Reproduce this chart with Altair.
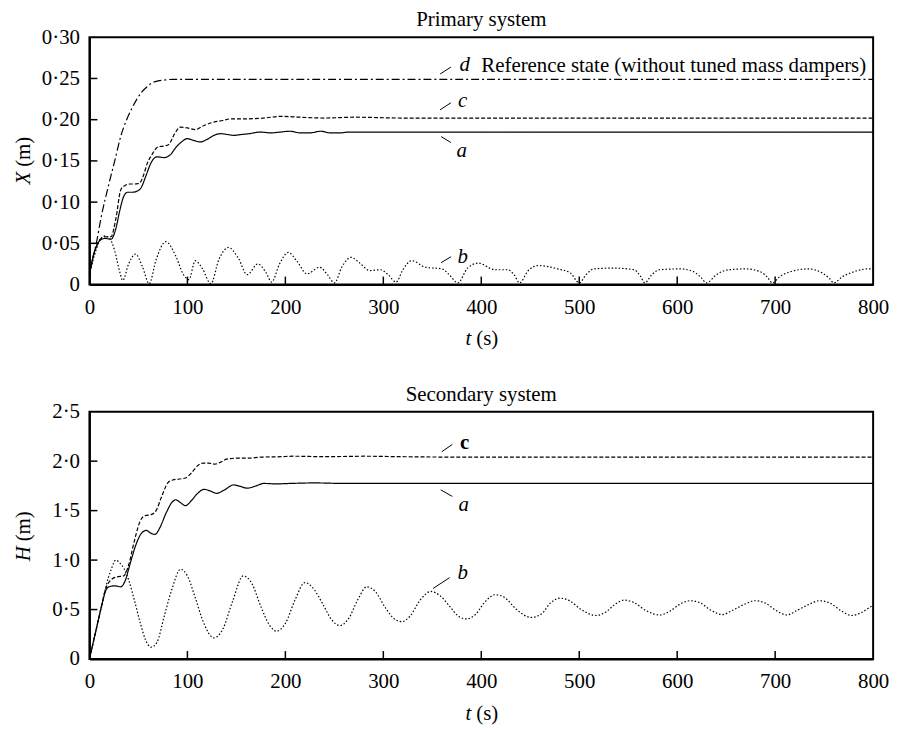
import altair as alt
import pandas as pd

FONT = "Liberation Serif"
FS = 21

# ---------------- Primary system (X, m) ----------------
top_a_t = [0, 3, 7, 11, 16, 22, 27, 31, 35, 39, 44, 48, 53, 58, 63, 69, 76, 83, 88, 93, 100, 106, 113, 120,
           127, 134, 141, 147, 155, 163, 174, 185, 195, 205, 215, 225, 236, 246, 256, 265, 280, 320, 800]
top_a_v = [0.012, 0.03, 0.046, 0.054, 0.056, 0.055, 0.068, 0.09, 0.107, 0.112, 0.112, 0.113, 0.118, 0.133, 0.148,
           0.155, 0.154, 0.158, 0.166, 0.172, 0.177, 0.175, 0.173, 0.176, 0.181, 0.183, 0.182, 0.181, 0.182, 0.183,
           0.185, 0.184, 0.185, 0.186, 0.184, 0.184, 0.186, 0.184, 0.184, 0.185, 0.185, 0.185, 0.185]

top_c_t = [0, 3, 7, 11, 16, 22, 27, 32, 36, 41, 46, 51, 55, 59, 64, 70, 76, 81, 87, 93, 100, 108, 117, 127,
           136, 144, 160, 178, 195, 215, 240, 270, 320, 800]
top_c_v = [0.012, 0.03, 0.046, 0.055, 0.058, 0.058, 0.08, 0.115, 0.12, 0.122, 0.122, 0.123, 0.132, 0.147, 0.158,
           0.167, 0.168, 0.17, 0.183, 0.191, 0.19, 0.188, 0.193, 0.197, 0.199, 0.201, 0.201, 0.202, 0.204, 0.203,
           0.202, 0.203, 0.202, 0.202]

top_d_t = [0, 3, 7, 12, 19, 26, 32, 38, 43, 48, 53, 58, 63, 70, 76, 85, 95, 130, 800]
top_d_v = [0.012, 0.03, 0.05, 0.082, 0.118, 0.151, 0.18, 0.2, 0.213, 0.224, 0.233, 0.239, 0.244, 0.247, 0.248,
           0.249, 0.249, 0.249, 0.249]

top_b_t = [0, 5, 10, 15, 20, 26, 31, 34, 40, 47, 54, 61, 68, 78, 88, 96, 101.5, 108, 115, 124, 132, 142, 152,
           161, 172, 180, 186, 194, 203, 212, 222, 235, 243, 250, 258, 267, 276, 286, 297, 305, 313, 320, 329,
           343, 360, 368, 376, 386, 397, 414, 427, 434, 439, 448, 458, 478, 491, 500, 507, 515, 535, 556, 562,
           567, 574, 582, 603, 616, 624, 630, 640, 653, 670, 686, 692, 697, 705, 714, 734, 748, 755, 760, 768,
           779, 795, 800]
top_b_v = [0.012, 0.035, 0.052, 0.059, 0.057, 0.04, 0.015, 0.005, 0.025, 0.037, 0.022, 0.001, 0.03, 0.052,
           0.035, 0.012, 0.006, 0.029, 0.02, 0.001, 0.03, 0.045, 0.032, 0.012, 0.025, 0.015, 0.003, 0.025, 0.039,
           0.028, 0.013, 0.021, 0.012, 0.002, 0.022, 0.033, 0.026, 0.017, 0.018, 0.012, 0.003, 0.018, 0.029,
           0.021, 0.019, 0.011, 0.002, 0.02, 0.026, 0.018, 0.018, 0.011, 0.002, 0.017, 0.023, 0.019, 0.014,
           0.002, 0.012, 0.019, 0.02, 0.018, 0.011, 0.002, 0.012, 0.018, 0.019, 0.016, 0.009, 0.002, 0.012,
           0.018, 0.019, 0.015, 0.009, 0.002, 0.01, 0.015, 0.019, 0.014, 0.008, 0.002, 0.009, 0.015, 0.019,
           0.019]

# ---------------- Secondary system (H, m) ----------------
bot_a_t = [0, 6, 12, 17, 20, 26, 32, 36, 42, 48, 53, 58, 63, 67, 72, 78, 84, 88, 93, 98, 104, 110, 117, 123,
           130, 138, 147, 154, 161, 170, 178, 190, 205, 230, 260, 800]
bot_a_v = [0, 0.26, 0.52, 0.70, 0.73, 0.74, 0.73, 0.78, 0.98, 1.17, 1.27, 1.30, 1.27, 1.26, 1.33, 1.47, 1.58,
           1.61, 1.58, 1.55, 1.60, 1.67, 1.715, 1.70, 1.675, 1.71, 1.76, 1.745, 1.727, 1.75, 1.775, 1.77,
           1.775, 1.78, 1.775, 1.775]

bot_c_t = [0, 6, 12, 17, 22, 28, 35, 40, 46, 52, 57, 63, 68, 74, 80, 85, 92, 98, 104, 110, 116, 122, 128, 134,
           140, 150, 161, 175, 195, 208, 240, 280, 320, 400, 800]
bot_c_v = [0, 0.26, 0.52, 0.72, 0.80, 0.83, 0.84, 0.95, 1.2, 1.40, 1.45, 1.46, 1.5, 1.65, 1.78, 1.81, 1.82,
           1.83, 1.88, 1.95, 1.98, 1.98, 1.97, 1.99, 2.02, 2.03, 2.03, 2.04, 2.045, 2.05, 2.045, 2.05, 2.045,
           2.04, 2.04]

bot_b_t = [0, 6, 12, 17, 22, 27, 31, 35, 40, 46, 52, 57, 63, 69, 76, 84, 93, 100, 108, 116, 127, 136, 146, 157,
           166, 175, 184, 191, 200, 210, 220, 228, 238, 247, 255.5, 264, 274, 283, 292, 302, 312, 319, 327, 338,
           348.5, 358, 368, 377, 385, 394, 404, 414, 424, 436, 451, 462, 470, 480, 490, 502, 517, 528, 536, 546,
           556, 568, 582, 592, 602, 613, 623, 635, 646, 656, 668, 679, 690, 701, 712, 722, 734, 745, 756, 767,
           778, 788, 798, 800]
bot_b_v = [0, 0.26, 0.52, 0.74, 0.9, 1.0, 0.97, 0.92, 0.8, 0.59, 0.36, 0.2, 0.12, 0.17, 0.42, 0.7, 0.907, 0.84,
           0.62, 0.38, 0.214, 0.3, 0.58, 0.84, 0.76, 0.53, 0.34, 0.281, 0.36, 0.6, 0.773, 0.72, 0.56, 0.4, 0.338,
           0.4, 0.6, 0.73, 0.68, 0.52, 0.4, 0.378, 0.43, 0.6, 0.683, 0.64, 0.53, 0.43, 0.405, 0.45, 0.58, 0.65,
           0.62, 0.5, 0.42, 0.46, 0.56, 0.615, 0.59, 0.5, 0.44, 0.48, 0.55, 0.595, 0.57, 0.49, 0.445, 0.48, 0.55,
           0.589, 0.57, 0.49, 0.449, 0.49, 0.55, 0.589, 0.565, 0.49, 0.445, 0.49, 0.55, 0.589, 0.565, 0.49, 0.44,
           0.47, 0.53, 0.54]

# ticks / labels
x_label_values = [0, 100, 200, 300, 400, 500, 600, 700, 800]
x_inner_ticks = [100, 200, 300, 400, 500, 600, 700]
top_y_values = [0, 0.05, 0.1, 0.15, 0.2, 0.25, 0.3]
top_y_inner = [0.05, 0.1, 0.15, 0.2, 0.25]
bot_y_values = [0, 0.5, 1.0, 1.5, 2.0, 2.5]
bot_y_inner = [0.5, 1.0, 1.5, 2.0]

# curve annotations (t, value, text)
top_lbl_t = [383, 381, 380, 381]
top_lbl_v = [0.2665, 0.2225, 0.1625, 0.0335]
top_lbl_s = ["d", "c", "a", "b"]
top_ref_text = "Reference state (without tuned mass dampers)"
top_ref_t = [400]
top_ref_v = [0.2645]
top_lead_t = [358, 358, 359, 359]
top_lead_t2 = [369, 369, 369, 369]
top_lead_v = [0.2554, 0.212, 0.1795, 0.0265]
top_lead_v2 = [0.2638, 0.2205, 0.1723, 0.0337]

bot_lbl_t = [382, 381]
bot_lbl_v = [1.56, 0.873]
bot_lbl_s = ["a", "b"]
bot_c_lbl_t = [383]
bot_c_lbl_v = [2.18]
bot_lead_t = [359.6, 358.6, 350.8]
bot_lead_t2 = [370.4, 370.4, 367.7]
bot_lead_v = [2.095, 1.71, 0.713]
bot_lead_v2 = [2.169, 1.644, 0.823]

series_order = ["a", "b", "c", "d"]
dash_range = [[1, 0], [1.5, 2], [4, 2], [8, 3, 2, 3]]

W, H = 789, 249


def long_df(parts):
    rows = []
    for name, ts, vs in parts:
        for t, v in zip(ts, vs):
            rows.append({"t": t, "v": v, "s": name})
    return pd.DataFrame(rows)


def panel(df, ymax, yvalues, yinner, fmt, ylab_letter, title, lbl_df, lead_df, extra_layers):
    xs = alt.Scale(domain=[0, 800], nice=False, zero=False)
    ys = alt.Scale(domain=[0, ymax], nice=False, zero=False)
    xax = alt.Axis(values=x_label_values, title=None, ticks=False, tickSize=0, labelPadding=12,
                   grid=False, domainWidth=2, domainColor="black", labelFontSize=FS, labelFont=FONT,
                   labelColor="black", labelFlush=False)
    yax = alt.Axis(values=yvalues, title=None, ticks=False, tickSize=0, labelPadding=10, grid=False,
                   domainWidth=2, domainColor="black", labelFontSize=FS, labelFont=FONT,
                   labelColor="black", labelFlush=False,
                   labelExpr="datum.value == 0 ? '0' : replace(format(datum.value, '" + fmt + "'), '.', '·')")
    X = alt.X("t:Q", scale=xs, axis=xax)
    Y = alt.Y("v:Q", scale=ys, axis=yax)

    lines = alt.Chart(df).mark_line(color="black", strokeWidth=1.2, interpolate="monotone").encode(
        x=X, y=Y,
        strokeDash=alt.StrokeDash("s:N", scale=alt.Scale(domain=series_order, range=dash_range), legend=None),
        detail="s:N",
    )
    yt = alt.Chart(pd.DataFrame({"v": yinner})).mark_rule(color="black", strokeWidth=1.5).encode(
        y=Y, x=alt.value(0), x2=alt.value(8))
    xt = alt.Chart(pd.DataFrame({"t": x_inner_ticks})).mark_rule(color="black", strokeWidth=1.5).encode(
        x=X, y=alt.value(H), y2=alt.value(H - 8))
    leads = alt.Chart(lead_df).mark_rule(color="black", strokeWidth=1).encode(
        x=X, x2="t2:Q", y=Y, y2="v2:Q")
    lbls = alt.Chart(lbl_df).mark_text(font=FONT, fontSize=FS, fontStyle="italic", color="black",
                                       align="center", baseline="middle").encode(x=X, y=Y, text="s:N")
    one = pd.DataFrame({"k": [0]})
    ytit1 = alt.Chart(one).mark_text(text=ylab_letter, font=FONT, fontSize=FS, fontStyle="italic",
                                     color="black", angle=270, align="right", baseline="middle").encode(
        x=alt.value(-66), y=alt.value(H / 2 + 11))
    ytit2 = alt.Chart(one).mark_text(text="(m)", font=FONT, fontSize=FS, color="black", angle=270,
                                     align="left", baseline="middle").encode(
        x=alt.value(-66), y=alt.value(H / 2 + 11 - 5))
    xtit1 = alt.Chart(one).mark_text(text="t", font=FONT, fontSize=FS, fontStyle="italic", color="black",
                                     align="right", baseline="middle").encode(
        x=alt.value(W / 2 - 10), y=alt.value(H + 55))
    xtit2 = alt.Chart(one).mark_text(text="(s)", font=FONT, fontSize=FS, color="black",
                                     align="left", baseline="middle").encode(
        x=alt.value(W / 2 - 10 + 5), y=alt.value(H + 55))
    layers = [lines, yt, xt, leads, lbls, ytit1, ytit2, xtit1, xtit2] + extra_layers(X, Y)
    return alt.layer(*layers).properties(
        width=W, height=H,
        title=alt.Title(title, font=FONT, fontSize=FS, fontWeight="normal", color="black",
                        anchor="middle", offset=-4))


top_df = long_df([("a", top_a_t, top_a_v), ("c", top_c_t, top_c_v), ("d", top_d_t, top_d_v),
                  ("b", top_b_t, top_b_v)])
bot_df = long_df([("a", bot_a_t, bot_a_v), ("c", bot_c_t, bot_c_v), ("b", bot_b_t, bot_b_v)])

top_lbl = pd.DataFrame({"t": top_lbl_t, "v": top_lbl_v, "s": top_lbl_s})
top_lead = pd.DataFrame({"t": top_lead_t, "t2": top_lead_t2, "v": top_lead_v, "v2": top_lead_v2})
bot_lbl = pd.DataFrame({"t": bot_lbl_t, "v": bot_lbl_v, "s": bot_lbl_s})
bot_lead = pd.DataFrame({"t": bot_lead_t, "t2": bot_lead_t2, "v": bot_lead_v, "v2": bot_lead_v2})


def top_extra(X, Y):
    ref = alt.Chart(pd.DataFrame({"t": top_ref_t, "v": top_ref_v, "s": [top_ref_text]})).mark_text(
        font=FONT, fontSize=FS, color="black", align="left", baseline="middle").encode(x=X, y=Y, text="s:N")
    return [ref]


def bot_extra(X, Y):
    c = alt.Chart(pd.DataFrame({"t": bot_c_lbl_t, "v": bot_c_lbl_v, "s": ["c"]})).mark_text(
        font=FONT, fontSize=FS, fontWeight="bold", color="black", align="center", baseline="middle").encode(
        x=X, y=Y, text="s:N")
    return [c]


top = panel(top_df, 0.30, top_y_values, top_y_inner, ".2f", "X", "Primary system", top_lbl, top_lead, top_extra)
bot = panel(bot_df, 2.5, bot_y_values, bot_y_inner, ".1f", "H", "Secondary system", bot_lbl, bot_lead, bot_extra)

chart = alt.vconcat(top, bot, spacing=33).properties(
    padding={"left": 4, "top": -2, "right": 0, "bottom": 0}
).configure_view(stroke="black", strokeWidth=2).configure_axis(grid=False)

chart.save("out.html", embed_options={"renderer": "svg", "actions": False})
